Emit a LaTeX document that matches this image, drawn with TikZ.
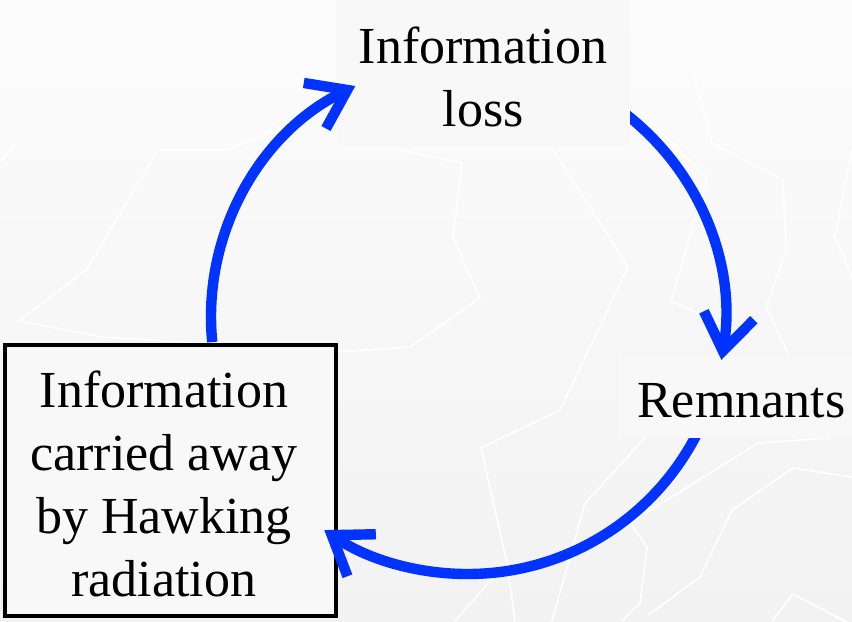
\documentclass[tikz,border=0pt]{standalone}
\usepackage{fontspec}
\setmainfont{Liberation Serif}
\usetikzlibrary{arrows.meta,calc}
\definecolor{arrblue}{RGB}{0,51,255}
\definecolor{bgtop}{RGB}{252,252,252}
\definecolor{bgbot}{RGB}{242,242,242}
\definecolor{nodefill}{RGB}{248,248,248}
\begin{document}
\begin{tikzpicture}[x=0.75pt,y=-0.75pt,
  lbl/.style={font=\fontsize{39}{47.25}\selectfont, align=center, inner sep=0pt},
  arr/.style={draw=arrblue, line width=7.8pt,
    -{Straight Barb[length=27pt,width=38pt,line cap=butt,line join=miter]}},
  deco/.style={draw=white, line width=1.2pt, line join=round},
  panel/.style={fill=nodefill, draw=none, inner sep=0pt}]
\useasboundingbox (0,0) rectangle (852,621);
\shade[top color=bgtop, bottom color=bgbot] (0,0) rectangle (852,621);
% faint background lines
\draw[deco] (0,162)--(14,145);
\draw[deco] (380,140)--(400,150)--(462,163)--(453,237)--(480,298)--(410,347)--(337,352)--(103,337)--(19,321)--(87,269)--(158,150)--(226,150)--(274,131)--(300,115);
\draw[deco] (552,148)--(628,267)--(560,410)--(481,448)--(507,563)--(515,621);
\draw[deco] (690,60)--(712,143)--(783,180)--(786,250)--(766,307)--(788,353);
\draw[deco] (641,111)--(707,178)--(671,301)--(731,329);
\draw[deco] (852,150)--(835,237)--(852,277);
\draw[deco] (645,438)--(585,503)--(552,621);
\draw[deco] (830,438)--(758,443)--(630,523)--(647,547)--(640,603)--(622,621);
\draw[deco] (852,477)--(793,468)--(732,510)--(700,577)--(648,615);
\draw[deco] (772,621)--(793,594)--(852,625);
\draw[deco] (493,578)--(455,621);
% node panels
\node[panel, minimum width=219.75pt, minimum height=110.25pt] (lossbg) at (483.5,73.5) {};
\node[panel, minimum width=175.5pt, minimum height=62.25pt] (rembg) at (735,396.5) {};
\node[panel, draw=black, line width=3pt, minimum width=248pt, minimum height=203pt] (hawkbox) at (170.5,480.5) {};
% cycle arrows
\coordinate (ctr) at (468,317);
\coordinate (a1s) at ($(ctr)+(-185.6:257)$);
\coordinate (a2s) at ($(ctr)+(-54:257)$);
\coordinate (a3s) at ($(ctr)+(26:257)$);
\draw[arr] (a1s) arc[start angle=-185.6, end angle=-116, radius=257];
\begin{scope}
  \clip (630,0) rectangle (852,621);
  \draw[arr] (a2s) arc[start angle=-54, end angle=9.6, radius=257];
\end{scope}
\begin{scope}
  \clip (0,438) rectangle (852,621);
  \draw[arr] (a3s) arc[start angle=26, end angle=124, radius=257];
\end{scope}
% labels (base anchor = baseline of the last line)
\node[lbl, anchor=base] (loss) at (483,126) {Information\\loss};
\node[lbl, anchor=base west] (rem) at (637,417) {Remnants};
\node[lbl, anchor=base] (hawk) at (164,596) {Information\\carried away\\by Hawking\\radiation};
\end{tikzpicture}
\end{document}
